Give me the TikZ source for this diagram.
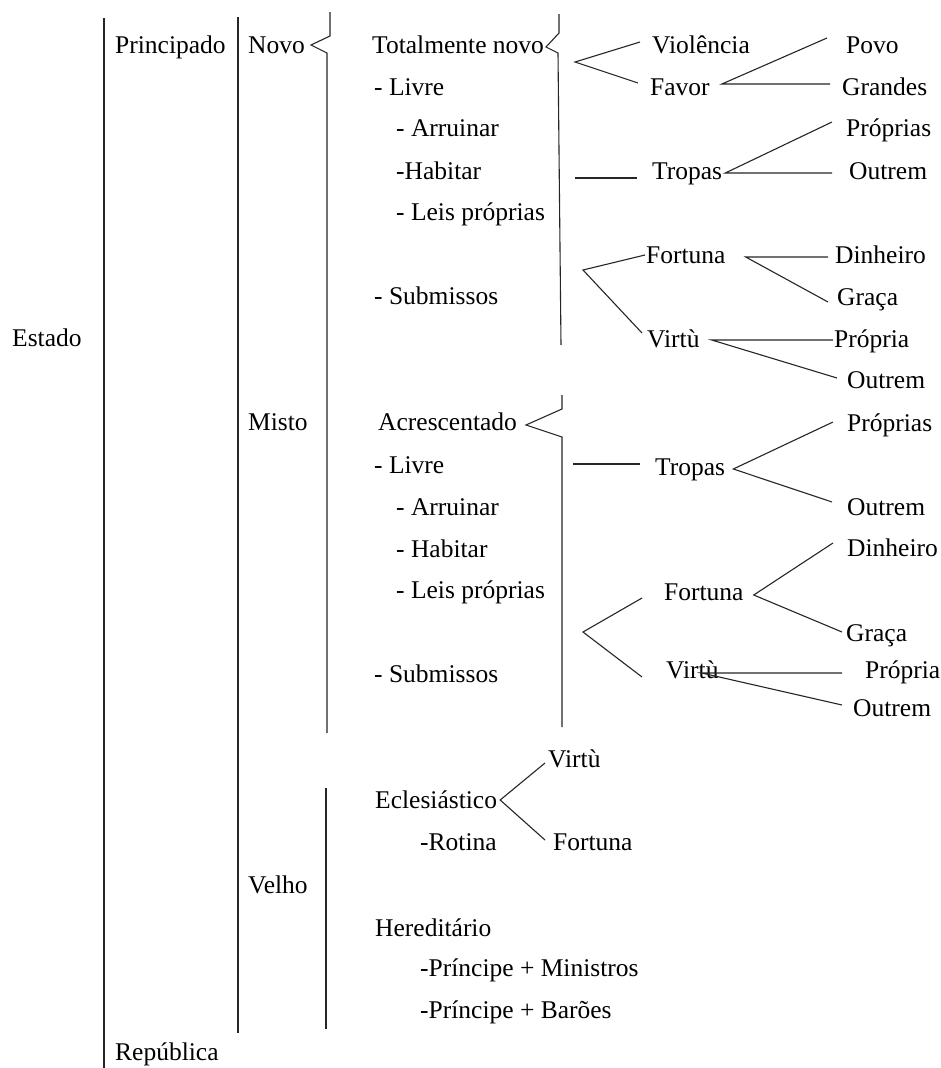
\documentclass[tikz,border=0pt]{standalone}
\usepackage{fontspec}
\setmainfont{Liberation Serif}
\usetikzlibrary{calc}
\tikzset{
  txt/.style={anchor=west, inner sep=0pt, text height=17pt, text depth=0pt,
    font=\fontsize{25.5}{30}\selectfont, text=black},
  ln/.style={draw=black!85, line width=1.1pt, line join=miter},
}
\begin{document}
\begin{tikzpicture}[x=1pt, y=-1pt]
\useasboundingbox[fill=white] (0,0) rectangle (941,1068);

% ---- top levels ----
\node[txt] (est)   at (12,338)  {Estado};
\node[txt] (prin)  at (115,45)  {Principado};
\node[txt] (rep)   at (115,1052) {República};
\node[txt] (novo)  at (248,45)  {Novo};
\node[txt] (misto) at (248,422) {Misto};
\node[txt] (velho) at (248,885) {Velho};

% ---- principado novo ----
\node[txt] (tn)  at (372,45)  {Totalmente novo};
\node[txt] (l1)  at (374,87)  {- Livre};
\node[txt] (a1)  at (396,128) {- Arruinar};
\node[txt] (h1)  at (396,171) {-Habitar};
\node[txt] (lp1) at (396,212) {- Leis próprias};
\node[txt] (s1)  at (374,296) {- Submissos};

\node[txt] (viol)    at (652,45)  {Violência};
\node[txt] (favor)   at (650,87)  {Favor};
\node[txt] (povo)    at (846,45)  {Povo};
\node[txt] (grandes) at (842,87)  {Grandes};
\node[txt] (prs1)    at (846,128) {Próprias};
\node[txt] (trop1)   at (652,171) {Tropas};
\node[txt] (out1)    at (849,171) {Outrem};
\node[txt] (fort1)   at (646,255) {Fortuna};
\node[txt] (din1)    at (835,255) {Dinheiro};
\node[txt] (gra1)    at (837,297) {Graça};
\node[txt] (vir1)    at (647,339) {Virtù};
\node[txt] (pra1)    at (834,339) {Própria};
\node[txt] (out2)    at (847,380) {Outrem};

% ---- principado misto ----
\node[txt] (acr) at (378,422) {Acrescentado};
\node[txt] (l2)  at (374,465) {- Livre};
\node[txt] (a2)  at (396,507) {- Arruinar};
\node[txt] (h2)  at (396,549) {- Habitar};
\node[txt] (lp2) at (396,590) {- Leis próprias};
\node[txt] (s2)  at (374,674) {- Submissos};

\node[txt] (trop2) at (655,467) {Tropas};
\node[txt] (prs2)  at (847,423) {Próprias};
\node[txt] (out3)  at (847,507) {Outrem};
\node[txt] (din2)  at (847,548) {Dinheiro};
\node[txt] (fort2) at (664,592) {Fortuna};
\node[txt] (gra2)  at (846,633) {Graça};
\node[txt] (vir2)  at (666,670) {Virtù};
\node[txt] (pra2)  at (865,670) {Própria};
\node[txt] (out4)  at (853,708) {Outrem};

% ---- principado velho ----
\node[txt] (vir3)  at (548,759) {Virtù};
\node[txt] (ecl)   at (375,800) {Eclesiástico};
\node[txt] (rot)   at (420,842) {-Rotina};
\node[txt] (fort3) at (553,842) {Fortuna};
\node[txt] (her)   at (375,928) {Hereditário};
\node[txt] (pm)    at (420,968) {-Príncipe + Ministros};
\node[txt] (pb)    at (420,1010) {-Príncipe + Barões};

% ---- bracket rules ----
\draw[ln] (104,18) -- (104,1068);
\draw[ln] (238,17) -- (238,1033);
\draw[ln] (330,12) -- (330,36) -- (311,45) -- (327,53) -- (327,733);
\draw[ln] (326,788) -- (326,1029);
\draw[ln] (559,14) -- (559,33) -- (546,47) -- (558,53) -- (561,345);
\draw[ln] (562,395) -- (562,409) -- (526,425) -- (562,437) -- (562,727);

% ---- branches: novo ----
\coordinate (b1) at (575,62);
\draw[ln] ($(viol.west)+(-12,-3)$) -- (b1) -- ($(favor.west)+(-12,-4)$);
\coordinate (fv) at ($(favor.east)+(12,-3)$);
\draw[ln] ($(povo.west)+(-19,-7)$) -- (fv) -- ($(grandes.west)+(-12,-3)$);
\coordinate (t1) at (575,178);
\draw[ln] (t1) -- ($(trop1.west)+(-15,7)$);
\coordinate (tv1) at ($(trop1.east)+(3,2)$);
\draw[ln] ($(prs1.west)+(-14,-6)$) -- (tv1) -- ($(out1.west)+(-17,2)$);
\coordinate (b2) at (583,270);
\draw[ln] ($(fort1.west)+(-1,0)$) -- (b2) -- ($(vir1.west)+(-5,-6)$);
\coordinate (fv1) at ($(fort1.east)+(20,2)$);
\draw[ln] ($(din1.west)+(-7,2)$) -- (fv1) -- ($(gra1.west)+(-9,5)$);
\coordinate (vv1) at ($(vir1.east)+(12,1)$);
\draw[ln] ($(pra1.west)+(-1,1)$) -- (vv1) -- ($(out2.west)+(-10,-2)$);

% ---- branches: misto ----
\coordinate (t2) at (573,464);
\draw[ln] (t2) -- ($(trop2.west)+(-15,-3)$);
\coordinate (tv2) at ($(trop2.east)+(8,2)$);
\draw[ln] ($(prs2.west)+(-14,-1)$) -- (tv2) -- ($(out3.west)+(-15,-5)$);
\coordinate (fv2) at ($(fort2.east)+(10,3)$);
\draw[ln] ($(din2.west)+(-14,-5)$) -- (fv2) -- ($(gra2.west)+(-4,-1)$);
\coordinate (b3) at (583,632);
\draw[ln] ($(fort2.west)+(-22,6)$) -- (b3) -- ($(vir2.west)+(-24,7)$);
\coordinate (vv2) at ($(vir2.east)+(-17,3)$);
\draw[ln] ($(pra2.west)+(-23,3)$) -- (vv2) -- ($(out4.west)+(-11,-3)$);

% ---- branches: velho ----
\coordinate (ev) at ($(ecl.east)+(3,0)$);
\draw[ln] ($(vir3.west)+(-3,4)$) -- (ev) -- ($(fort3.west)+(-8,-2)$);
\end{tikzpicture}
\end{document}
